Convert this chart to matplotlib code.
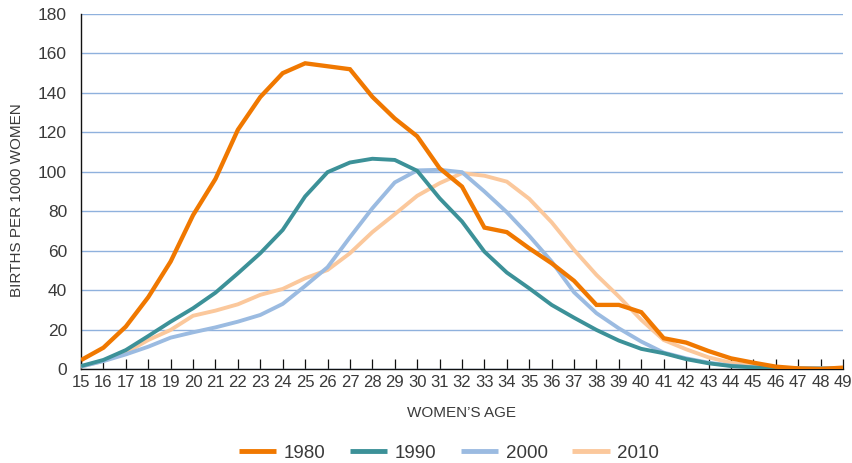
import matplotlib
matplotlib.use("Agg")
import matplotlib.pyplot as plt

plt.rcParams['font.family'] = ['Liberation Sans', 'DejaVu Sans']

ages = list(range(15, 50))
y1980 = [4.5, 10.8, 21.5, 36.4, 54.5, 78, 96.4, 121.3, 137.9, 150, 155, 153.5, 152, 138, 127, 118,
         101.8, 92.5, 71.7, 69.4, 61.2, 53.6, 44.7, 32.5, 32.5, 28.8, 15.6, 13.4, 9.1, 5.4, 3.2, 1.2, 0.3, 0.0, 0.7]
y1990 = [1.5, 4.6, 9.6, 16.7, 24, 30.8, 38.7, 48.5, 58.7, 70.5, 87.5, 99.8, 104.7, 106.6, 106, 100.5,
         86.6, 74.8, 59.5, 48.9, 40.9, 32.5, 26, 19.8, 14.4, 10.2, 8, 5, 2.9, 1.5, 0.8, 0.5, 0.2, 0.2, 0.2]
y2000 = [1.2, 4, 7.4, 11.3, 15.9, 18.6, 21.1, 24, 27.4, 33, 42.1, 51.6, 66.8, 81.5, 94.6, 100.7,
         101, 99.8, 90, 79.5, 67.5, 54.5, 38.9, 28.3, 20.6, 13.9, 8.3, 5.4, 3.2, 1.7, 0.8, 0.4, 0.3, 0.3, 0.3]
y2010 = [1.2, 4.2, 8.3, 14.7, 19.8, 27, 29.6, 32.8, 37.6, 40.6, 46, 50.2, 58.7, 69.4, 78.5, 87.8,
         94.2, 99.3, 98, 95, 86.3, 74.4, 60.4, 47.7, 36.7, 24.9, 14.7, 10, 5.9, 3.2, 1.5, 0.7, 0.3, 0.3, 0.3]
series_labels = ['1980', '1990', '2000', '2010']
yticks = list(range(0, 181, 20))

colors = ['#f07800', '#3c9198', '#9bbbe1', '#fbc89c']
text_color = '#3a3a3a'

fig = plt.figure(figsize=(8.53, 4.63), dpi=100)
ax = fig.add_axes([81/853, 1-369/463, (843-81)/853, (369-14)/463])

series = [y1980, y1990, y2000, y2010]
order = [3, 2, 1, 0]
handles = {}
for i in order:
    lw = 3.1 if i == 0 else 2.8
    h, = ax.plot(ages, series[i], color=colors[i], lw=lw, solid_joinstyle='miter',
                 solid_capstyle='butt', zorder=4 if i == 0 else 3, label=series_labels[i])
    handles[i] = h

ax.set_xlim(15, 49)
ax.set_ylim(0, 180)
ax.set_xticks(ages)
ax.set_xticklabels([str(a) for a in ages])
ax.set_yticks(yticks)
ax.grid(axis='y', color='#8fb1dd', lw=1.0, zorder=0)
ax.set_axisbelow(True)
for s in ['top', 'right']:
    ax.spines[s].set_visible(False)
for s in ['left', 'bottom']:
    ax.spines[s].set_color('#111111')
    ax.spines[s].set_linewidth(1.0)
ax.tick_params(axis='x', direction='in', length=7, width=0.9, color='#111111',
               labelsize=12, labelcolor=text_color, pad=4)
ax.tick_params(axis='y', length=0, labelsize=12.5, labelcolor=text_color, pad=10)

ax.set_xlabel("WOMEN\u2019S AGE", fontsize=11, color=text_color, labelpad=12)
ax.set_ylabel("BIRTHS PER 1000 WOMEN", fontsize=11, color=text_color)
ax.yaxis.set_label_coords(-(81 - 24) / 762, (369 - 200) / 355)

leg = fig.legend([handles[i] for i in range(4)], series_labels, loc='center',
                 bbox_to_anchor=(449/853, 1-453/463), ncol=4, frameon=False,
                 fontsize=13.5, handlelength=2.0, handletextpad=0.4, columnspacing=1.3)
for t in leg.get_texts():
    t.set_color(text_color)
for l in leg.get_lines():
    l.set_linewidth(3.5)

fig.savefig("out.png", dpi=100)
